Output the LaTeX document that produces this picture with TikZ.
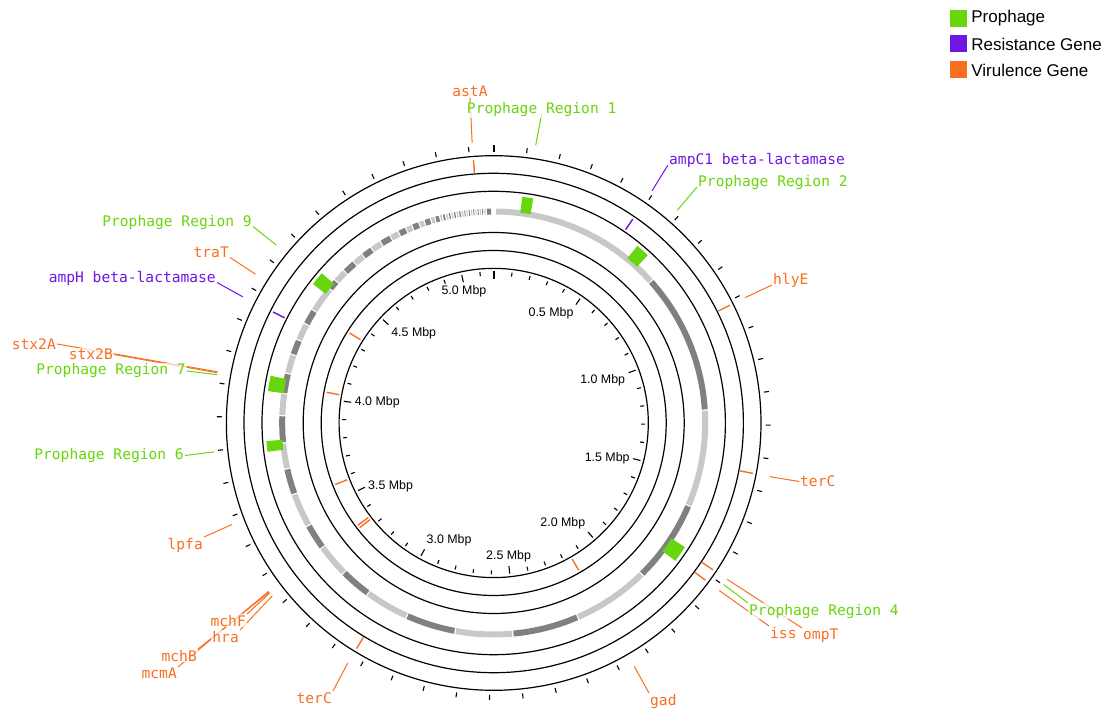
\documentclass[tikz,border=0pt]{standalone}
\usepackage{fontspec}
\setmainfont{Liberation Sans}
\newfontfamily\genefont{DejaVu Sans Mono}
\usepackage{xcolor}
\usepackage{tikz}
\usetikzlibrary{positioning, backgrounds}

\definecolor{phage}{RGB}{104,214,12}
\definecolor{resist}{RGB}{111,22,226}
\definecolor{viru}{RGB}{249,111,33}
\definecolor{contigA}{RGB}{200,200,200}
\definecolor{contigB}{RGB}{128,128,128}

\tikzset{
  ring/.style={draw=black, line width=1.2pt},
  tickline/.style={black, line width=1.1pt},
  hitline/.style={line width=1.4pt},
  leader/.style={line width=1pt},
  genelabel/.style={font=\genefont\fontsize{14.6}{17}\selectfont, inner sep=1pt,
    fill=white, fill opacity=0.7, text opacity=1},
  mbplabel/.style={font=\fontsize{12.4}{14}\selectfont, inner sep=0.5pt},
  legbox/.style={minimum size=17pt, inner sep=0pt},
  legtext/.style={font=\fontsize{17}{20}\selectfont, inner sep=0pt},
  declare function={gang(\v)=90-\v*360/5.175;}
}

% prophage box on the contig track: #1 = centre (deg from top), #2 = width (deg)
\newcommand{\phagebox}[2]{%
  \fill[phage] ({90-#1+#2/2}:212) arc[start angle={90-#1+#2/2}, end angle={90-#1-#2/2}, radius=212]
    -- ({90-#1-#2/2}:228) arc[start angle={90-#1-#2/2}, end angle={90-#1+#2/2}, radius=228] -- cycle;}
% gene hit in a ring: #1 = colour, #2 = angle (deg from top), #3/#4 = radii
\newcommand{\genehit}[4]{\draw[hitline, #1] ({90-#2}:#3) -- ({90-#2}:#4);}

\begin{document}
\begin{tikzpicture}[x=1pt, y=1pt]
    \useasboundingbox (-493.7,-288) rectangle (620.3,423);

    % Rings
    \foreach \r in {267.3, 249.7, 231.7, 190.5, 172.5, 154.6}
        \draw[ring] (0,0) circle[radius=\r];

    % Ticks (every 0.1 Mbp)
    \foreach \k in {1,...,51}{
        \pgfmathsetmacro\tin{mod(\k,5)==0 ? 144 : 147.5}
        \draw[tickline] ({gang(\k/10)}:272) -- ({gang(\k/10)}:277);
        \draw[tickline] ({gang(\k/10)}:\tin) -- ({gang(\k/10)}:151.5);
    }
    \draw[tickline, line width=2.2pt] (90:271) -- (90:278);
    \draw[tickline, line width=2.2pt] (90:144) -- (90:151.5);

    % Mbp labels
    \foreach \v/\anc [count=\i] in {0.5/north east, 1.0/north east, 1.5/east, 2.0/south east,
        2.5/south, 3.0/south west, 3.5/west, 4.0/west, 4.5/north west, 5.0/north}
        \node[mbplabel, anchor=\anc] (mbp\i) at ({gang(\v)}:141) {\v\ Mbp};

    % Contig track
    \foreach \a/\b [count=\i] in {0.5/48, 48/86.5, 86.5/113, 113/135.6, 135.6/156.6, 156.6/174.8,
        174.8/190.5, 190.5/204.2, 204.2/216.4, 216.4/225, 225/234, 234/241, 241/250.4,
        250.4/257.5, 257.5/264.6, 264.6/272, 272/278, 278/283.5, 283.5/288.8, 288.8/293,
        293/297.8, 297.8/302, 302/309.3, 309.3/312, 312/315.5, 315.5/319, 319/322, 322/325,
        325/328, 328/331, 331/333.5, 333.5/335.7, 335.7/337.5, 337.5/339.5, 339.5/341,
        341/342.8, 342.8/344, 344/345.3, 345.3/346.1, 346.1/346.9, 346.9/347.7, 347.7/348.4,
        348.4/349.1, 349.1/349.8, 349.8/350.5, 350.5/351.2, 351.2/351.9, 351.9/352.5,
        352.5/353.1, 353.1/353.7, 353.7/354.3, 354.3/354.9, 354.9/355.5, 355.5/356.1,
        356.1/356.7, 356.7/357.3, 357.3/358, 358/359.5}{
        \ifodd\i \def\segcol{contigA}\else\def\segcol{contigB}\fi
        \draw[line width=6pt, \segcol] ({90-\a-0.18}:211.5)
            arc[start angle={90-\a-0.18}, end angle={90-\b+0.18}, radius=211.5];
    }

    % Prophage regions
    \phagebox{8.6}{2.8}
    \phagebox{40.8}{3.5}
    \phagebox{125.1}{4.2}
    \phagebox{264.1}{2.7}
    \phagebox{280.0}{3.9}
    \phagebox{309.3}{3.5}

    % Gene hits
    \genehit{viru}{355.6}{251}{264}
    \genehit{viru}{63.5}{251}{264}
    \genehit{viru}{101}{251}{264}
    \genehit{viru}{123.8}{251}{264}
    \genehit{viru}{126.6}{251}{264}
    \genehit{viru}{211.3}{251}{264}
    \genehit{resist}{34.3}{234}{247}
    \genehit{resist}{296.7}{234}{247}
    \genehit{viru}{150}{157}{170}
    \genehit{viru}{232.0}{157}{170}
    \genehit{viru}{233.0}{157}{170}
    \genehit{viru}{248.8}{157}{170}
    \genehit{viru}{280.4}{157}{170}
    \genehit{viru}{302.0}{157}{170}

    % Feature points
    \coordinate (astA-f) at ({90-355.6}:281);
    \coordinate (pr1-f) at ({90-8.6}:281);
    \coordinate (ampC-f) at ({90-34.3}:281);
    \coordinate (pr2-f) at ({90-40.8}:281);
    \coordinate (hlyE-f) at ({90-63.5}:281);
    \coordinate (terC1-f) at ({90-101}:281);
    \coordinate (ompT-f) at ({90-123.8}:281);
    \coordinate (pr4-f) at ({90-125.1}:281);
    \coordinate (iss-f) at ({90-126.6}:281);
    \coordinate (gad-f) at ({90-150}:281);
    \coordinate (terC2-f) at ({90-211.3}:281);
    \coordinate (hra-f) at ({90-232.0}:281);
    \coordinate (mchF-f) at ({90-232.8}:281);
    \coordinate (mchB-f) at ({90-233.0}:281);
    \coordinate (mcmA-f) at ({90-233.2}:281);
    \coordinate (lpfa-f) at ({90-248.8}:281);
    \coordinate (pr6-f) at ({90-264.1}:281);
    \coordinate (pr7-f) at ({90-279.9}:281);
    \coordinate (stxB-f) at ({90-280.3}:281);
    \coordinate (stxA-f) at ({90-280.5}:281);
    \coordinate (ampH-f) at ({90-296.7}:281);
    \coordinate (traT-f) at ({90-302.0}:281);
    \coordinate (pr9-f) at ({90-309.3}:281);

    % Labels
    \node[genelabel, text=viru, anchor=base] (astA) at (-23.7,326) {astA};
    \node[genelabel, text=phage, anchor=base] (pr1) at (48,309) {Prophage Region 1};
    \node[genelabel, text=resist, anchor=base west] (ampC) at (174.3,258) {ampC1 beta-lactamase};
    \node[genelabel, text=phage, anchor=base west] (pr2) at (203.3,236) {Prophage Region 2};
    \node[genelabel, text=viru, anchor=base west] (hlyE) at (278.3,138) {hlyE};
    \node[genelabel, text=viru, anchor=west] (terC1) at (305.3,-58.5) {terC};
    \node[genelabel, text=viru, anchor=north west] (ompT) at (308.3,-205) {ompT};
    \node[genelabel, text=phage, anchor=north west] (pr4) at (254.3,-180) {Prophage Region 4};
    \node[genelabel, text=viru, anchor=north west] (iss) at (275.3,-203) {iss};
    \node[genelabel, text=viru, anchor=north west] (gad) at (155.3,-270) {gad};
    \node[genelabel, text=viru, anchor=north east] (terC2) at (-160.7,-268) {terC};
    \node[genelabel, text=viru, anchor=north east] (mchF) at (-246.7,-191) {mchF};
    \node[genelabel, text=viru, anchor=north east] (hra) at (-253.7,-207) {hra};
    \node[genelabel, text=viru, anchor=north east] (mchB) at (-295.7,-226) {mchB};
    \node[genelabel, text=viru, anchor=north east] (mcmA) at (-315.7,-244) {mcmA};
    \node[genelabel, text=viru, anchor=north east] (lpfa) at (-289.7,-114) {lpfa};
    \node[genelabel, text=phage, anchor=east] (pr6) at (-308.7,-32.5) {Prophage Region 6};
    \node[genelabel, text=phage, anchor=east] (pr7) at (-306.7,52) {Prophage Region 7};
    \node[genelabel, text=viru, anchor=east] (stxB) at (-379.7,68.5) {stx2B};
    \node[genelabel, text=viru, anchor=east] (stxA) at (-436.7,79) {stx2A};
    \node[genelabel, text=resist, anchor=base east] (ampH) at (-276.7,140.5) {ampH beta-lactamase};
    \node[genelabel, text=viru, anchor=base east] (traT) at (-263.7,165.5) {traT};
    \node[genelabel, text=phage, anchor=base east] (pr9) at (-240.7,196.5) {Prophage Region 9};

    % Leaders (behind the labels)
    \begin{scope}[on background layer]
    \draw[leader, viru] (astA-f) -- (astA.base);
    \draw[leader, phage] (pr1-f) -- (pr1.base);
    \draw[leader, resist] (ampC-f) -- (ampC.base west);
    \draw[leader, phage] (pr2-f) -- (pr2.base west);
    \draw[leader, viru] (hlyE-f) -- (hlyE.base west);
    \draw[leader, viru] (terC1-f) -- (terC1.west);
    \draw[leader, viru] (ompT-f) -- (ompT.north west);
    \draw[leader, phage] (pr4-f) -- (pr4.north west);
    \draw[leader, viru] (iss-f) -- (iss.north west);
    \draw[leader, viru] (gad-f) -- (gad.north west);
    \draw[leader, viru] (terC2-f) -- (terC2.north east);
    \draw[leader, viru] (mchF-f) -- (mchF.north east);
    \draw[leader, viru] (hra-f) -- (hra.north east);
    \draw[leader, viru] (mchB-f) -- (mchB.north east);
    \draw[leader, viru] (mcmA-f) -- (mcmA.north east);
    \draw[leader, viru] (lpfa-f) -- (lpfa.north east);
    \draw[leader, phage] (pr6-f) -- (pr6.east);
    \draw[leader, phage] (pr7-f) -- (pr7.east);
    \draw[leader, viru] (stxB-f) -- (stxB.east);
    \draw[leader, viru] (stxA-f) -- (stxA.east);
    \draw[leader, resist] (ampH-f) -- (ampH.base east);
    \draw[leader, viru] (traT-f) -- (traT.base east);
    \draw[leader, phage] (pr9-f) -- (pr9.base east);
    \end{scope}

    % Legend
    \node[legbox, fill=phage] (lg1) at (464.8,404.5) {};
    \node[legbox, fill=resist] (lg2) at (464.8,379) {};
    \node[legbox, fill=viru] (lg3) at (464.8,353) {};
    \node[legtext, right=4pt of lg1] (lt1) {Prophage};
    \node[legtext, right=4pt of lg2] (lt2) {Resistance Gene};
    \node[legtext, right=4pt of lg3] (lt3) {Virulence Gene};
\end{tikzpicture}
\end{document}
